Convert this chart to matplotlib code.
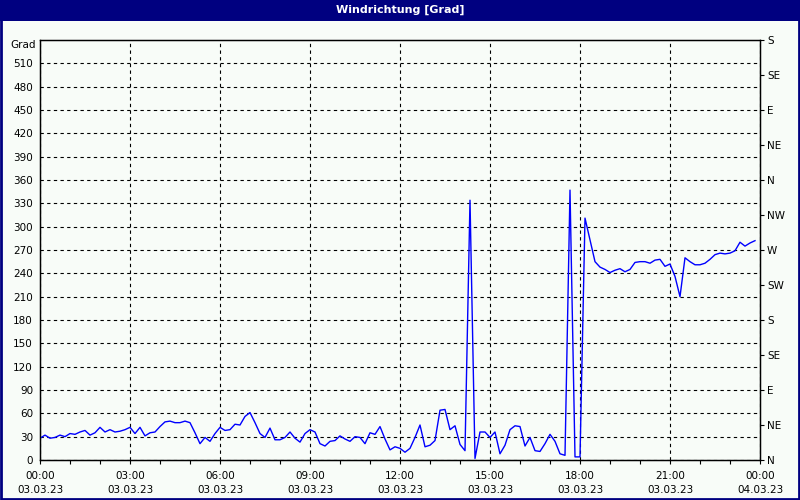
import numpy as np
import matplotlib
matplotlib.use("Agg")
import matplotlib.pyplot as plt
from matplotlib.patches import Rectangle

# ---- data (10-minute values, 03.03.23 00:00 .. 23:50) ----
wind_dir = [
    28, 32, 28, 29, 32, 30, 34, 33, 36, 38, 32, 35, 42, 36, 39, 36, 37, 39,
    42, 34, 42, 31, 35, 36, 43, 49, 50, 48, 48, 50, 48, 35, 21, 29, 24, 34,
    42, 38, 39, 46, 45, 56, 61, 48, 34, 29, 41, 26, 26, 29, 36, 28, 23, 34,
    39, 36, 21, 18, 24, 25, 31, 27, 24, 30, 29, 21, 35, 33, 43, 27, 13, 17,
    15, 10, 15, 29, 45, 17, 19, 25, 64, 65, 39, 44, 20, 12, 334, 2, 36, 36,
    29, 36, 8, 19, 39, 44, 43, 18, 29, 12, 11, 21, 33, 24, 8, 6, 347, 4,
    4, 311, 283, 255, 248, 245, 241, 244, 246, 242, 245, 254, 255, 255, 253, 257,
    258, 249, 252, 236, 210, 260, 255, 251, 251, 253, 258, 264, 266, 265, 266, 269,
    280, 275, 279, 282,
]
step_minutes = 10
y_ticks_left = list(range(0, 511, 30))
y_ticks_right = list(range(0, 541, 45))
compass_labels = ["N", "NE", "E", "SE", "S", "SW", "W", "NW", "N", "NE", "E", "SE", "S"]
x_tick_hours = list(range(0, 25, 3))
x_tick_labels = ["00:00\n03.03.23", "03:00\n03.03.23", "06:00\n03.03.23",
                 "09:00\n03.03.23", "12:00\n03.03.23", "15:00\n03.03.23",
                 "18:00\n03.03.23", "21:00\n03.03.23", "00:00\n04.03.23"]
title = "Windrichtung [Grad]"
unit_label = "Grad"

hours = np.arange(len(wind_dir)) * step_minutes / 60.0

bg = "#F8FCF8"
navy = "#000080"
fs = 7.5

fig = plt.figure(figsize=(8, 5), dpi=100, facecolor=bg)
ax = fig.add_axes([40/800, 40/500, 720/800, 420/500], facecolor=bg)

# title bar & border
fig.patches.append(Rectangle((0, 1 - 21/500), 1, 21/500, transform=fig.transFigure,
                             facecolor=navy, edgecolor="none", zorder=0))
fig.patches.append(Rectangle((0.001, 0.002), 0.998, 0.996, transform=fig.transFigure,
                             facecolor="none", edgecolor=navy, linewidth=2, zorder=5))
fig.text(0.5, 1 - 10/500, title, color="white", fontsize=8, fontweight="bold",
         ha="center", va="center", family="DejaVu Sans")

ax.plot(hours, wind_dir, color="#0000FF", linewidth=1.0, zorder=3)

ax.set_xlim(0, 24)
ax.set_ylim(0, 540)
ax.set_yticks(y_ticks_left)
ax.set_yticklabels([str(v) for v in y_ticks_left], fontsize=fs)
ax.set_xticks(x_tick_hours)
ax.set_xticklabels(x_tick_labels, fontsize=fs, linespacing=1.45)
ax.set_xticks(range(0, 25), minor=True)
ax.tick_params(axis="x", which="both", direction="out", length=3, width=0.8, pad=5)
ax.tick_params(axis="y", which="both", length=0, pad=5)

ax.grid(True, which="major", color="black", linestyle=(0, (3, 3)), linewidth=0.8)
for s in ax.spines.values():
    s.set_linewidth(1.0)
    s.set_color("black")

ax2 = ax.twinx()
ax2.set_ylim(0, 540)
ax2.set_yticks(y_ticks_right)
ax2.set_yticklabels(compass_labels, fontsize=fs)
ax2.tick_params(axis="y", direction="out", length=3, width=0.8, pad=2)

ax.text(-0.006, 1.0 - 5/420, unit_label, transform=ax.transAxes, fontsize=fs,
        ha="right", va="center")

fig.savefig("out.png", dpi=100, facecolor=bg)
